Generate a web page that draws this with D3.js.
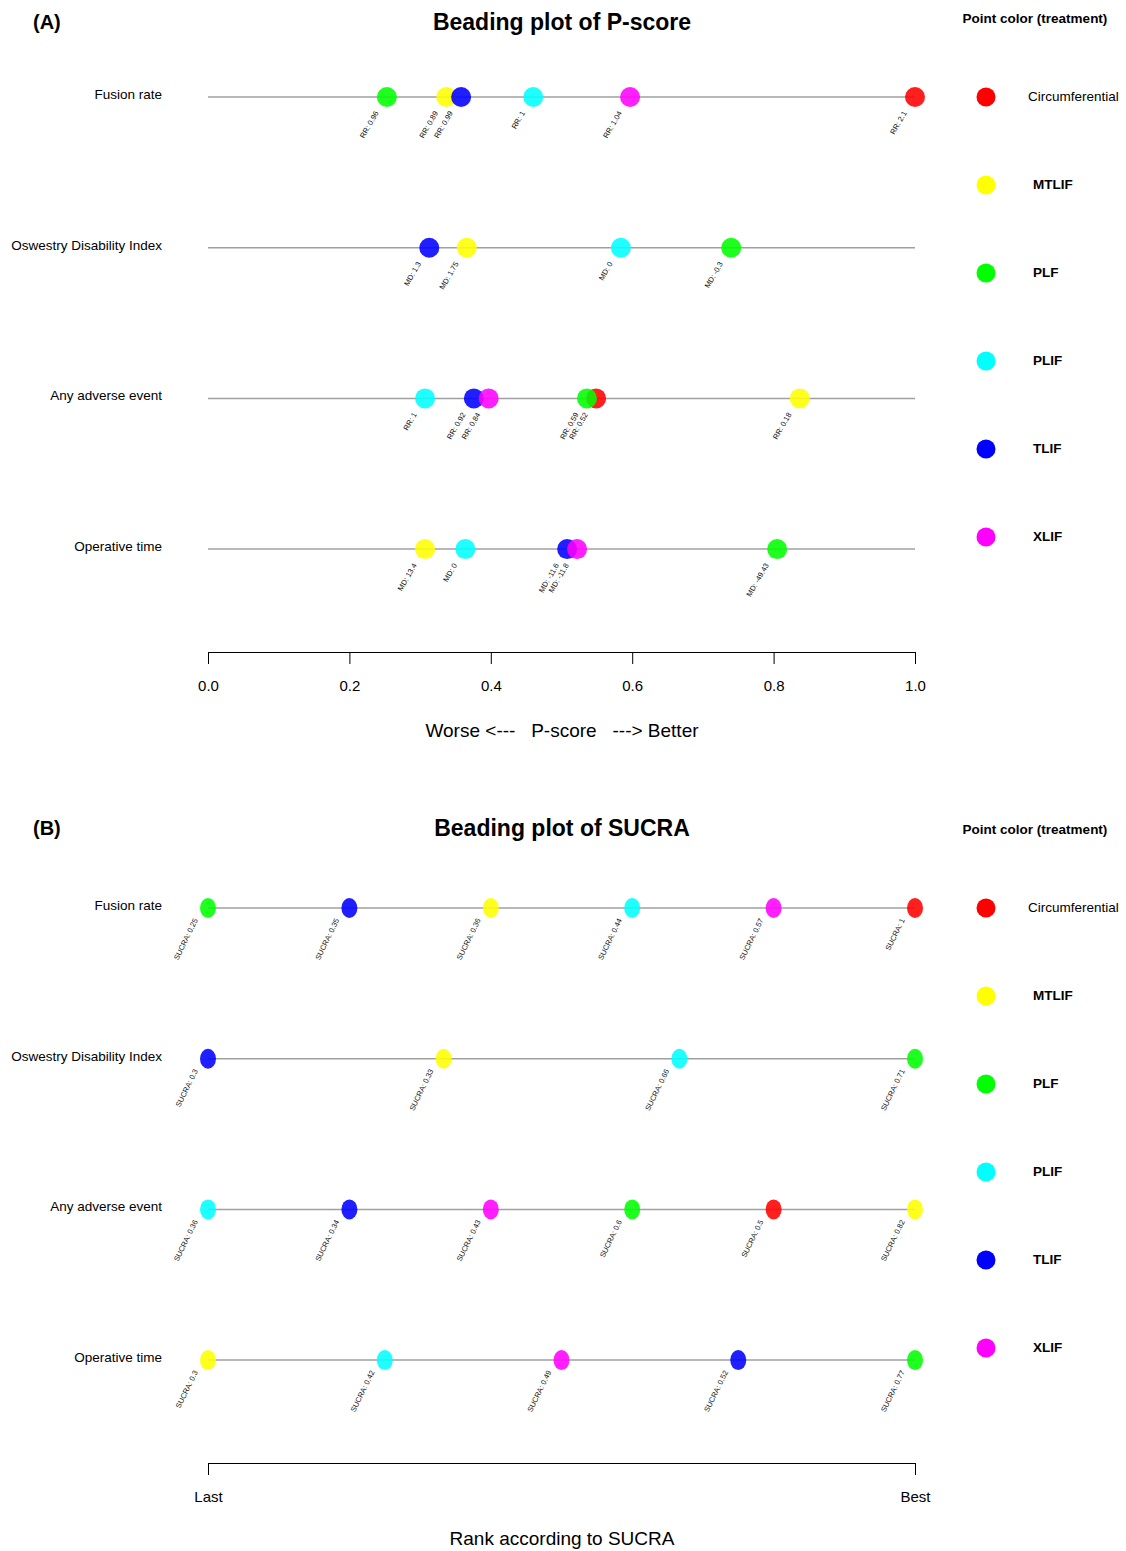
<!DOCTYPE html>
<html>
<head>
<meta charset="utf-8">
<script src="https://cdn.jsdelivr.net/npm/d3@7"></script>
<style>
  body { margin: 0; background: #fff; }
  svg { font-family: "Liberation Sans", Arial, sans-serif; }
</style>
</head>
<body>
<div id="chart"></div>
<script>
const width = 1126;
const height = 1551;

const outcomes = ["Fusion rate", "Oswestry Disability Index", "Any adverse event", "Operative time"];
const treatments = ["Circumferential", "MTLIF", "PLF", "PLIF", "TLIF", "XLIF"];
const colors = ["#ff0000", "#ffff00", "#00ff00", "#00ffff", "#0000ff", "#ff00ff"];
const pTicks = [0, 0.2, 0.4, 0.6, 0.8, 1.0];
const rankTicks = ["Last", "Best"];

// panel A: P-scores and effect labels, one array per outcome
const pFusion = [
  { t: "Circumferential", v: 1.0, lab: "RR: 2.1" },
  { t: "MTLIF", v: 0.337, lab: "RR: 0.89" },
  { t: "PLF", v: 0.253, lab: "RR: 0.96" },
  { t: "PLIF", v: 0.46, lab: "RR: 1" },
  { t: "TLIF", v: 0.358, lab: "RR: 0.99" },
  { t: "XLIF", v: 0.597, lab: "RR: 1.04" },
];
const pOdi = [
  { t: "MTLIF", v: 0.366, lab: "MD: 1.75" },
  { t: "PLF", v: 0.74, lab: "MD: -0.3" },
  { t: "PLIF", v: 0.584, lab: "MD: 0" },
  { t: "TLIF", v: 0.313, lab: "MD: 1.3" },
];
const pAe = [
  { t: "Circumferential", v: 0.549, lab: "RR: 0.52" },
  { t: "MTLIF", v: 0.837, lab: "RR: 0.18" },
  { t: "PLF", v: 0.536, lab: "RR: 0.59" },
  { t: "PLIF", v: 0.307, lab: "RR: 1" },
  { t: "TLIF", v: 0.376, lab: "RR: 0.92" },
  { t: "XLIF", v: 0.397, lab: "RR: 0.84" },
];
const pOp = [
  { t: "MTLIF", v: 0.307, lab: "MD: 13.4" },
  { t: "PLF", v: 0.805, lab: "MD: -49.43" },
  { t: "PLIF", v: 0.364, lab: "MD: 0" },
  { t: "TLIF", v: 0.508, lab: "MD: -11.6" },
  { t: "XLIF", v: 0.522, lab: "MD: -11.8" },
];

// panel B: treatments from last to best, with SUCRA labels
const sFusion = [["PLF", 0.25], ["TLIF", 0.35], ["MTLIF", 0.36], ["PLIF", 0.44], ["XLIF", 0.57], ["Circumferential", 1]];
const sOdi = [["TLIF", 0.3], ["MTLIF", 0.33], ["PLIF", 0.66], ["PLF", 0.71]];
const sAe = [["PLIF", 0.36], ["TLIF", 0.34], ["XLIF", 0.43], ["PLF", 0.6], ["Circumferential", 0.5], ["MTLIF", 0.82]];
const sOp = [["MTLIF", 0.3], ["PLIF", 0.42], ["XLIF", 0.49], ["TLIF", 0.52], ["PLF", 0.77]];

const pRows = [pFusion, pOdi, pAe, pOp];
const sRows = [sFusion, sOdi, sAe, sOp];

const color = d3.scaleOrdinal().domain(treatments).range(colors);
const x = d3.scaleLinear().domain([0, 1]).range([208, 915]);

const svg = d3.select("#chart").append("svg")
  .attr("width", width)
  .attr("height", height);

function drawFrame(g, letter, title, dy) {
  g.append("text").attr("x", 33).attr("y", 29 + dy)
    .attr("font-size", 20).attr("font-weight", "bold").text(letter);
  g.append("text").attr("x", 562).attr("y", 30 + dy).attr("text-anchor", "middle")
    .attr("font-size", 23).attr("font-weight", "bold").text(title);
  g.append("text").attr("x", 1035).attr("y", 23).attr("text-anchor", "middle")
    .attr("font-size", 13.5).attr("font-weight", "bold").text("Point color (treatment)");

  const leg = g.selectAll(".legend").data(treatments).enter().append("g")
    .attr("transform", (d, i) => "translate(986," + (97 + i * 88) + ")");
  leg.append("circle").attr("r", 9.5).attr("fill", (d) => color(d));
  leg.append("text")
    .attr("x", (d, i) => (i === 0 ? 42 : 47))
    .attr("y", 4)
    .attr("font-size", 13.5)
    .attr("font-weight", (d, i) => (i === 0 ? "normal" : "bold"))
    .text((d) => d);
}

function rowY(i) {
  return 97 + i * 150.7;
}

function drawRowBase(g, i) {
  const y = rowY(i);
  g.append("text").attr("x", 162).attr("y", y + 2).attr("text-anchor", "end")
    .attr("font-size", 13.5).text(outcomes[i]);
  g.append("line").attr("x1", x(0)).attr("x2", x(1)).attr("y1", y).attr("y2", y)
    .attr("stroke", "#a0a0a0").attr("stroke-width", 1.5);
}

function styleAxis(a) {
  a.selectAll("text").attr("font-size", 15).attr("fill", "#000")
    .attr("font-family", "Liberation Sans, Arial, sans-serif");
}

// ---- panel A
const gA = svg.append("g");
drawFrame(gA, "(A)", "Beading plot of P-score", 0);

pRows.forEach((rows, i) => {
  const y = rowY(i);
  drawRowBase(gA, i);
  const dots = gA.append("g").selectAll("g").data(rows).enter().append("g");
  dots.append("circle")
    .attr("cx", (d) => x(d.v)).attr("cy", y).attr("r", 10)
    .attr("fill", (d) => color(d.t)).attr("fill-opacity", 0.88);
  dots.append("text")
    .attr("transform", (d) => "translate(" + (x(d.v) - 8) + "," + (y + 16) + ") rotate(-60)")
    .attr("text-anchor", "end").attr("font-size", 7.5).attr("fill", "#111")
    .text((d) => d.lab);
});

gA.append("g")
  .attr("transform", "translate(0,652)")
  .call(d3.axisBottom(x).tickValues(pTicks).tickFormat(d3.format(".1f"))
    .tickSize(12).tickSizeOuter(0).tickPadding(16))
  .call(styleAxis);

gA.append("text").attr("x", 562).attr("y", 737).attr("text-anchor", "middle")
  .attr("font-size", 19).attr("xml:space", "preserve")
  .text("Worse <---   P-score   ---> Better");

// ---- panel B
const gB = svg.append("g").attr("transform", "translate(0,811)");
drawFrame(gB, "(B)", "Beading plot of SUCRA", -5);

sRows.forEach((rows, i) => {
  const y = rowY(i);
  drawRowBase(gB, i);
  const xr = d3.scalePoint().domain(rows.map((d) => d[0])).range([x(0), x(1)]);
  const dots = gB.append("g").selectAll("g").data(rows).enter().append("g");
  dots.append("ellipse")
    .attr("cx", (d) => xr(d[0])).attr("cy", y).attr("rx", 8).attr("ry", 10)
    .attr("fill", (d) => color(d[0])).attr("fill-opacity", 0.88);
  dots.append("text")
    .attr("transform", (d) => "translate(" + (xr(d[0]) - 10) + "," + (y + 12) + ") rotate(-64)")
    .attr("text-anchor", "end").attr("font-size", 7.5).attr("fill", "#111")
    .text((d) => "SUCRA: " + d[1]);
});

gB.append("g")
  .attr("transform", "translate(0,652)")
  .call(d3.axisBottom(x).tickValues([0, 1]).tickFormat((d, i) => rankTicks[i])
    .tickSize(12).tickSizeOuter(0).tickPadding(16))
  .call(styleAxis);

gB.append("text").attr("x", 562).attr("y", 734).attr("text-anchor", "middle")
  .attr("font-size", 19).text("Rank according to SUCRA");
</script>
</body>
</html>
